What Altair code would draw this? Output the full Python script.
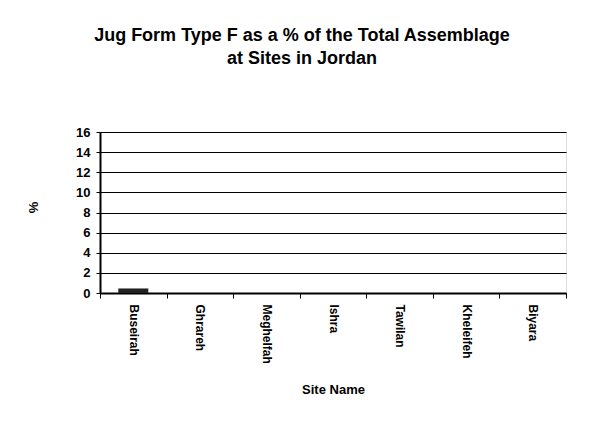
import altair as alt
import pandas as pd

sites = ["Buseirah", "Ghrareh", "Meghelfah", "Ishra", "Tawilan", "Kheleifeh", "Biyara"]
percent = [0.45, 0.0, 0.0, 0.0, 0.0, 0.0, 0.0]

df = pd.DataFrame({"Site Name": sites, "%": percent})

FONT = "Liberation Sans"

chart = alt.Chart(df).mark_bar(color="#222222", size=30).encode(
    x=alt.X("Site Name:N", sort=sites,
            scale=alt.Scale(paddingInner=0, paddingOuter=0),
            axis=alt.Axis(title="Site Name", labelAngle=90, labelAlign="left",
                          labelBaseline="middle", labelFontSize=12, labelFontWeight="bold",
                          labelFont=FONT, labelColor="black", labelPadding=6,
                          tickBand="extent", ticks=True, tickSize=5, tickColor="black",
                          domainColor="black", domainWidth=2,
                          titleFont=FONT, titleFontSize=13, titleFontWeight="bold",
                          titleColor="black", titleY=96, titleBaseline="middle",
                          grid=False)),
    y=alt.Y("%:Q", scale=alt.Scale(domain=[0, 16]),
            axis=alt.Axis(title="%", values=list(range(0, 17, 2)), tickSize=4,
                          tickColor="black", domainColor="black", domainWidth=2,
                          labelFont=FONT, labelFontSize=13, labelFontWeight="bold",
                          labelColor="black", labelPadding=6,
                          grid=True, gridColor="black", gridWidth=1, gridOpacity=1,
                          titleFont=FONT, titleFontSize=13, titleFontWeight="bold",
                          titleColor="black", titleX=-67, titleY=75, titleAngle=-90,
                          titleAlign="center", titleBaseline="middle")),
).properties(
    width=466, height=161,
    title=alt.TitleParams(["Jug Form Type F as a % of the Total Assemblage", "at Sites in Jordan"],
                          font=FONT, fontSize=18, fontWeight="bold", color="black",
                          lineHeight=23, anchor="middle", dx=-31, offset=58),
    autosize=alt.AutoSizeParams(type="none"),
    padding={"left": 92, "top": 124, "right": 18, "bottom": 131},
).configure_view(stroke="black", strokeWidth=1.5).configure(background="white")

chart.save("out.html", embed_options={"renderer": "svg", "actions": False})
